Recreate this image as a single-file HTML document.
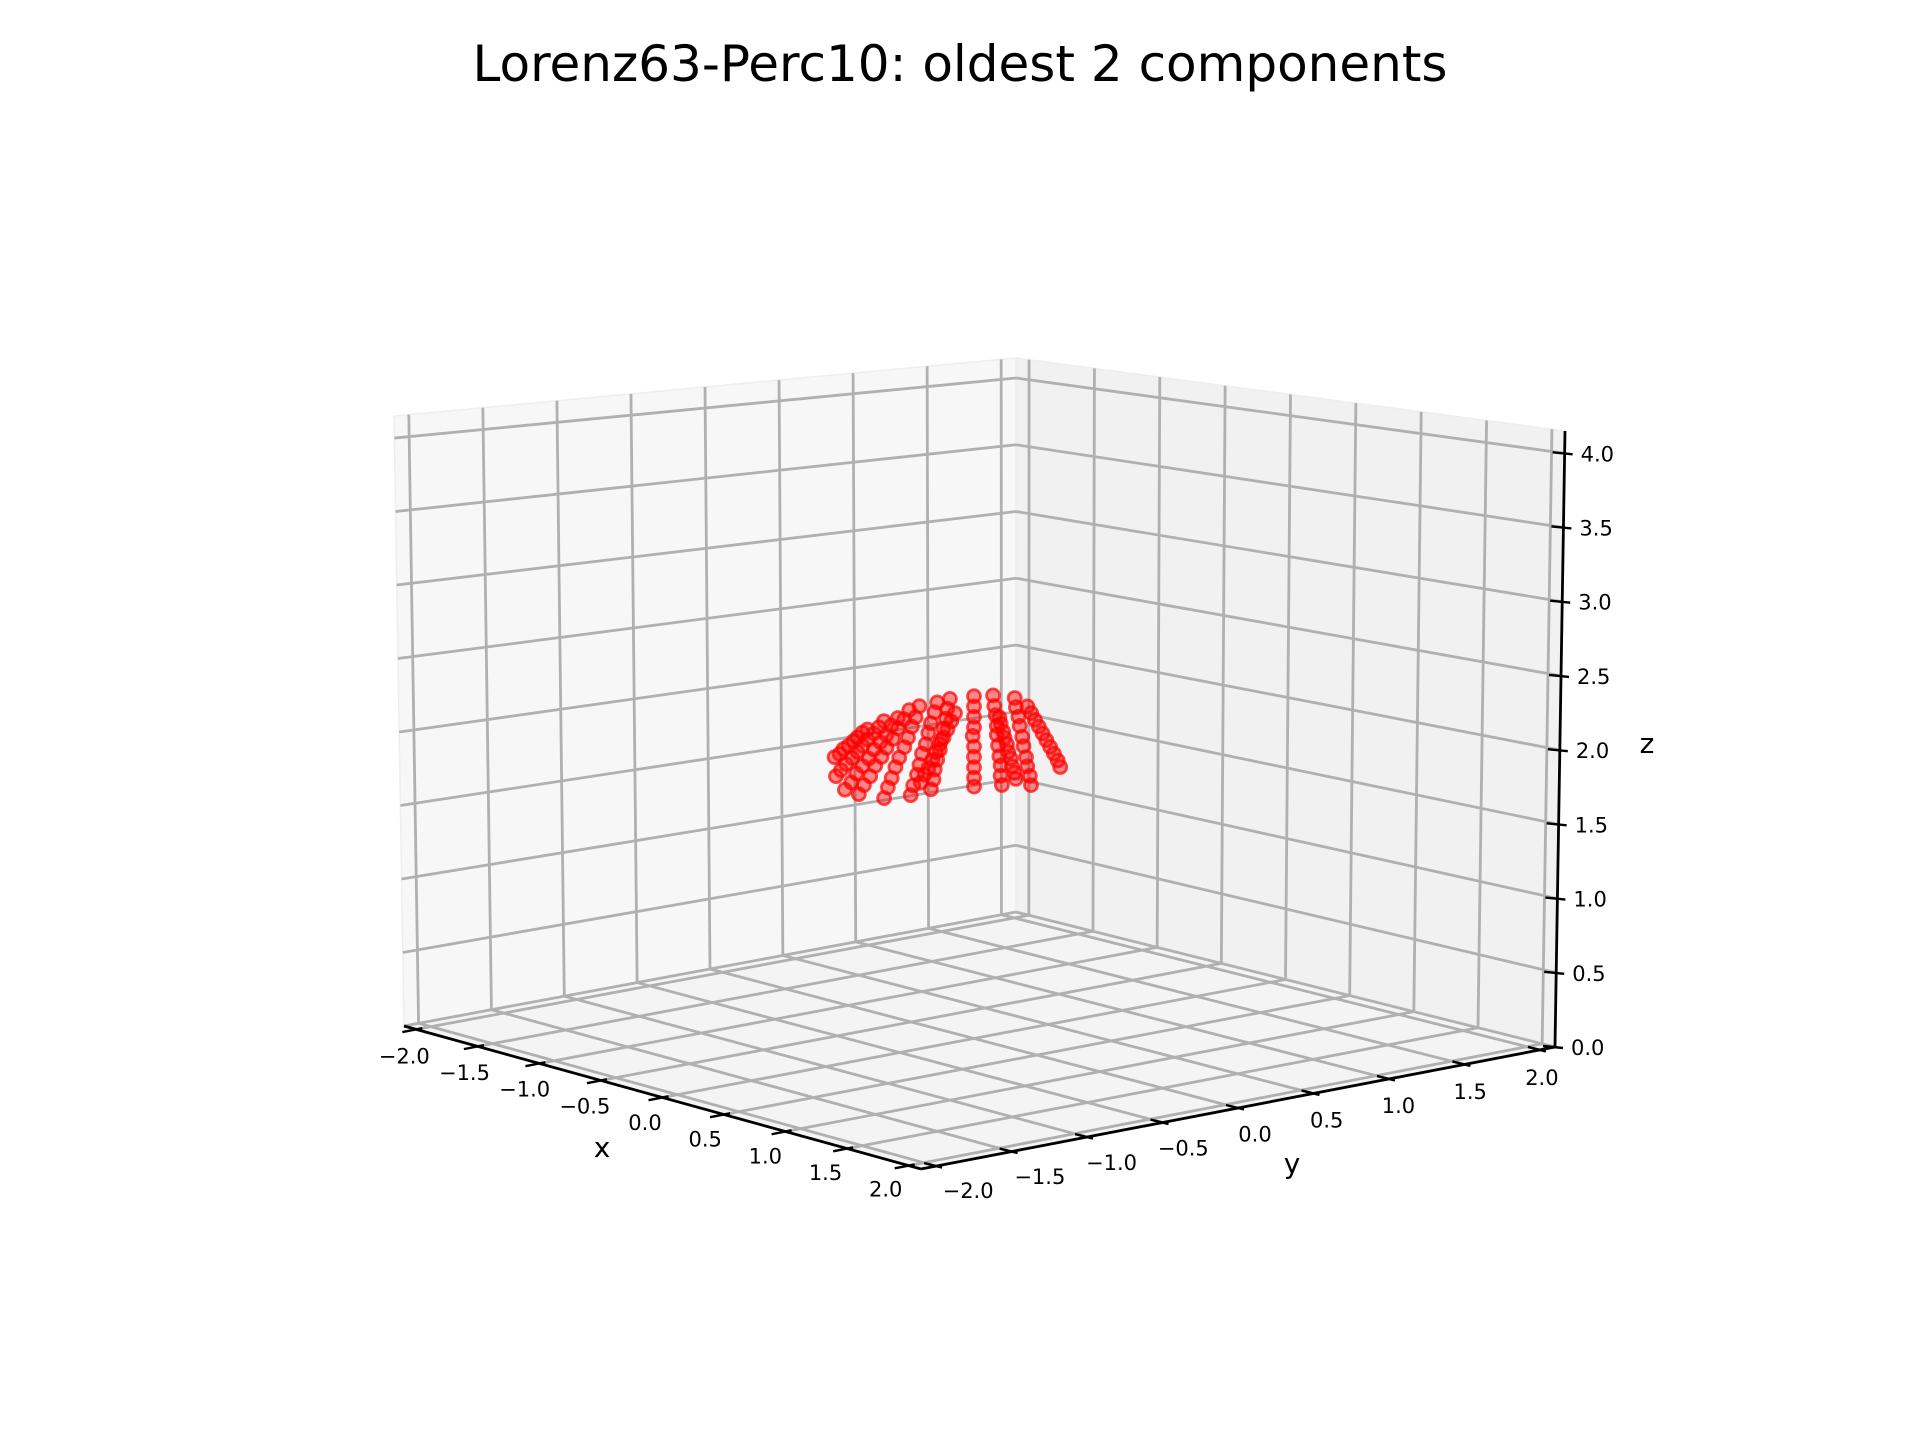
<!DOCTYPE html>
<html><head><meta charset="utf-8"><style>
html,body{margin:0;padding:0;background:#fff;}
svg{display:block;font-family:"DejaVu Sans","Liberation Sans",sans-serif;}
</style></head><body>
<svg id="chart" width="1920" height="1440" viewBox="0 0 1920 1440" xmlns="http://www.w3.org/2000/svg">
<rect width="1920" height="1440" fill="#fff"/>
<text x="960" y="81" text-anchor="middle" font-size="50" fill="#000">Lorenz63-Perc10: oldest 2 components</text>
<g id="panes"></g>
<g id="grid"></g>
<g id="axes"></g>
<g id="points"></g>
<text x="602" y="1157" text-anchor="middle" font-size="28">x</text>
<text x="1292" y="1173" text-anchor="middle" font-size="28">y</text>
<text x="1647" y="753" text-anchor="middle" font-size="28">z</text>
</svg>
<script>
const xTicks = [-2.0,-1.5,-1.0,-0.5,0.0,0.5,1.0,1.5,2.0];
const yTicks = [-2.0,-1.5,-1.0,-0.5,0.0,0.5,1.0,1.5,2.0];
const zTicks = [0.0,0.5,1.0,1.5,2.0,2.5,3.0,3.5,4.0];
const xVals = [
0.00,0.00,0.00,0.00,-0.01,0.00,0.00,0.00,0.00,0.00,
0.15,0.16,0.17,0.18,0.18,0.19,0.20,0.21,0.21,0.22,
0.32,0.33,0.35,0.36,0.38,0.39,0.41,0.42,0.44,0.45,
0.42,0.45,0.48,0.51,0.54,0.57,0.60,0.63,0.66,0.68,
0.20,0.21,0.23,0.24,0.26,0.27,0.29,0.30,0.32,0.33,
-0.19,-0.21,-0.22,-0.24,-0.26,-0.27,-0.29,-0.31,-0.32,-0.34,
-0.29,-0.31,-0.34,-0.36,-0.38,-0.41,-0.43,-0.45,-0.48,-0.50,
-0.43,-0.46,-0.49,-0.52,-0.55,-0.59,-0.62,-0.65,-0.68,-0.71,
-0.51,-0.55,-0.60,-0.64,-0.69,-0.73,-0.78,-0.82,-0.87,-0.91,
-0.60,-0.65,-0.69,-0.74,-0.79,-0.83,-0.88,-0.93,-0.97,-1.02,
-0.71,-0.75,-0.79,-0.84,-0.88,-0.92,-0.96,-1.01,-1.05,-1.09,
-0.84,-0.88,-0.92,-0.95,-0.99,-1.03,-1.06,-1.10,
-0.15,-0.18,-0.21,-0.24,-0.27,-0.30,-0.33,-0.36,-0.39,-0.42];
const yVals = [
0,0,0,0,0,0,0,0,0,0, 0,0,0,0,0,0,0,0,0,0, 0,0,0,0,0,0,0,0,0,0,
0,0,0,0,0,0,0,0,0,0, 0,0,0,0,0,0,0,0,0,0, 0,0,0,0,0,0,0,0,0,0,
0,0,0,0,0,0,0,0,0,0, 0,0,0,0,0,0,0,0,0,0, 0,0,0,0,0,0,0,0,0,0,
0,0,0,0,0,0,0,0,0,0, 0,0,0,0,0,0,0,0,0,0, 0,0,0,0,0,0,0,0,
0,0,0,0,0,0,0,0,0,0];
const zVals = [
2.31,2.24,2.17,2.10,2.04,1.97,1.90,1.83,1.76,1.70,
2.34,2.27,2.21,2.14,2.08,2.01,1.94,1.88,1.81,1.75,
2.35,2.29,2.23,2.17,2.10,2.04,1.97,1.91,1.85,1.79,
2.31,2.27,2.23,2.19,2.15,2.11,2.07,2.03,1.99,1.95,
2.20,2.16,2.11,2.07,2.03,1.98,1.94,1.89,1.85,1.81,
2.26,2.19,2.12,2.05,1.97,1.90,1.83,1.76,1.69,1.62,
2.22,2.15,2.07,2.00,1.92,1.85,1.77,1.70,1.62,1.55,
2.17,2.09,2.02,1.94,1.87,1.79,1.72,1.64,1.57,1.49,
2.13,2.06,1.99,1.91,1.84,1.77,1.70,1.62,1.55,1.48,
2.06,2.00,1.93,1.87,1.81,1.74,1.68,1.62,1.55,1.49,
2.02,1.97,1.92,1.87,1.82,1.77,1.72,1.67,1.62,1.57,
1.94,1.91,1.87,1.84,1.80,1.77,1.73,1.70,
2.17,2.11,2.05,1.99,1.94,1.88,1.82,1.76,1.71,1.65];

const NS='http://www.w3.org/2000/svg';
const ZTOP=4.15, PAD=2.1;
const F={A:[404,1026],B:[921,1169],C:[1555,1047],D:[1016,912]};
const T={A:[394,416],B:[921,489],C:[1565,431],D:[1016,358]};
function bil(Q,u,v){
  return [0,1].map(i=>(1-u)*(1-v)*Q.A[i]+u*(1-v)*Q.B[i]+u*v*Q.C[i]+(1-u)*v*Q.D[i]);
}
function P(x,y,z){
  const u=(x+PAD)/(2*PAD),v=(y+PAD)/(2*PAD),w=z/ZTOP;
  const f=bil(F,u,v),t=bil(T,u,v);
  return [f[0]+w*(t[0]-f[0]),f[1]+w*(t[1]-f[1])];
}
function mk(tag,parent){const e=document.createElementNS(NS,tag);parent.appendChild(e);return e;}
function line(parent,p,q,stroke,w){
  const l=mk('line',parent);
  l.setAttribute('x1',p[0]);l.setAttribute('y1',p[1]);l.setAttribute('x2',q[0]);l.setAttribute('y2',q[1]);
  l.setAttribute('stroke',stroke);l.setAttribute('stroke-width',w);
  return l;
}
function poly(parent,pts,fill){
  const p=mk('polygon',parent);
  p.setAttribute('points',pts.map(a=>a.join(',')).join(' '));
  p.setAttribute('fill',fill);p.setAttribute('stroke','#eeeeee');p.setAttribute('stroke-width','1.5');
  return p;
}
const L=-PAD,R=PAD;
const panes=document.getElementById('panes');
let pl=poly(panes,[P(L,L,0),P(L,R,0),P(L,R,ZTOP),P(L,L,ZTOP)],'#f7f7f7');


pl=poly(panes,[P(L,R,0),P(R,R,0),P(R,R,ZTOP),P(L,R,ZTOP)],'#f1f1f1');


pl=poly(panes,[P(L,L,0),P(R,L,0),P(R,R,0),P(L,R,0)],'#f4f4f4');



const grid=document.getElementById('grid');
const GC='#b0b0b0',GW=2.8;
xTicks.forEach(x=>{
  let l=line(grid,P(x,L,0),P(x,R,0),GC,GW);
  
  
  l=line(grid,P(x,R,0),P(x,R,ZTOP),GC,GW);
  
  
});
yTicks.forEach(y=>{
  let l=line(grid,P(L,y,0),P(R,y,0),GC,GW);
  
  
  l=line(grid,P(L,y,0),P(L,y,ZTOP),GC,GW);
  
  
});
zTicks.forEach(z=>{
  let l=line(grid,P(L,L,z),P(L,R,z),GC,GW);
  
  
  l=line(grid,P(L,R,z),P(R,R,z),GC,GW);
  
  
});

const axes=document.getElementById('axes');
let ax=line(axes,P(L,L,0),P(R,L,0),'#000',2.8);


ax=line(axes,P(R,L,0),P(R,R,0),'#000',2.8);


ax=line(axes,P(R,R,0),P(R,R,ZTOP),'#000',2.8);


function fmt(v){return (v<0?'\u2212':'')+Math.abs(v).toFixed(1);}
function label(parent,p,txt,anchor,name){
  const t=mk('text',parent);
  t.setAttribute('x',p[0]);t.setAttribute('y',p[1]);
  t.setAttribute('font-size','21');t.setAttribute('text-anchor',anchor);
  t.textContent=txt;
  
  
  return t;
}
xTicks.forEach(x=>{
  const p=P(x,L,0);
  const tk=line(axes,[p[0]-14,p[1]+2.7],[p[0]+6,p[1]-1.2],'#000',2.4);
  
  
  const u=(x+2)/4;
  label(axes,[p[0]-12-11*u,p[1]+34-3*u],fmt(x),'middle','x-tick-label');
});
yTicks.forEach(y=>{
  const p=P(R,y,0);
  const tk=line(axes,[p[0]-12,p[1]-3],[p[0]+6,p[1]+1.5],'#000',2.4);
  
  
  const v=(y+2)/4;
  label(axes,[p[0]+32-30*v,p[1]+32+3*v],fmt(y),'middle','y-tick-label');
});
zTicks.forEach(z=>{
  const p=P(R,R,z);
  const tk=line(axes,[p[0]-12,p[1]-1],[p[0]+8,p[1]+1],'#000',2.4);
  
  
  label(axes,[p[0]+16,p[1]+8],fmt(z),'start','z-tick-label');
});

const pts=document.getElementById('points');
for(let i=0;i<xVals.length;i++){
  const p=P(xVals[i],yVals[i],zVals[i]);
  const c=mk('circle',pts);
  c.setAttribute('cx',p[0].toFixed(1));c.setAttribute('cy',p[1].toFixed(1));
  c.setAttribute('r','6.5');
  c.setAttribute('fill','rgba(255,0,0,0.45)');
  c.setAttribute('stroke','rgba(255,0,0,0.7)');
  c.setAttribute('stroke-width','2.8');
  
  
}
</script>
</body></html>
